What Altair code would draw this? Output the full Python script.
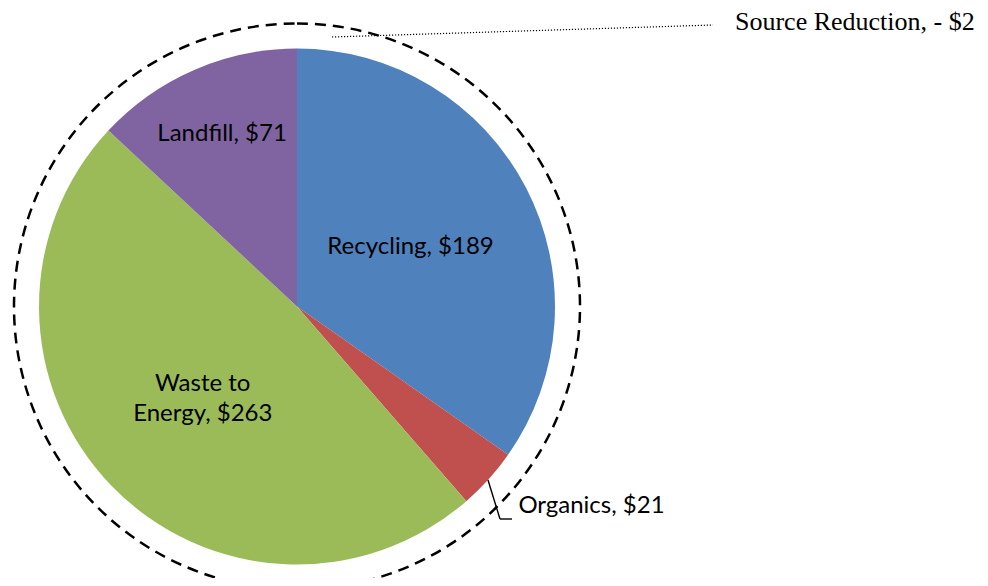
import altair as alt
import pandas as pd

categories = ["Recycling", "Organics", "Waste to Energy", "Landfill", "Source Reduction"]
values = [189, 21, 263, 71, -2]
labels = ["Recycling, $189", "Organics, $21", "Waste to\nEnergy, $263", "Landfill, $71", "Source Reduction, - $2"]
colors = ["#4F81BD", "#C0504D", "#9BBB59", "#8064A2"]

pie_df = pd.DataFrame({
    "cat": categories[:4],
    "value": values[:4],
    "label": labels[:4],
    "order": list(range(4)),
})
sr_df = pd.DataFrame({"cat": [categories[4]], "value": [values[4]], "label": [labels[4]]})

CX, CY = 289, 298.5
R = 258

base = alt.Chart(pie_df).encode(
    theta=alt.Theta("value:Q", stack=True),
    order=alt.Order("order:Q"),
    x=alt.value(CX),
    y=alt.value(CY),
)

pie = base.mark_arc(radius=R).encode(
    color=alt.Color("cat:N", scale=alt.Scale(domain=categories[:4], range=colors), legend=None)
)

def label_layer(cat, radius, **kw):
    return base.mark_text(radius=radius, font="Lato", fontSize=24, color="black",
                          lineBreak="\n", lineHeight=30, **kw).encode(
        text="label:N",
        opacity=alt.condition(alt.datum.cat == cat, alt.value(1), alt.value(0)),
    )

lab_rec = label_layer("Recycling", 128)
lab_land = label_layer("Landfill", 188)
lab_waste = label_layer("Waste to Energy", 131, dy=-14)
lab_org = label_layer("Organics", 298, align="left", baseline="middle")

one = pd.DataFrame({"a": [0]})

ring = alt.Chart(one).mark_arc(
    radius=283, theta=0, theta2=6.3, fill="transparent", stroke="black",
    strokeWidth=2.5, strokeDash=[11, 7]
).encode(x=alt.value(CX), y=alt.value(CY))

org_lead1 = alt.Chart(one).mark_rule(color="black", strokeWidth=1.4).encode(
    x=alt.value(480), y=alt.value(472), x2=alt.value(492), y2=alt.value(511))
org_lead2 = alt.Chart(one).mark_rule(color="black", strokeWidth=1.4).encode(
    x=alt.value(492), y=alt.value(511), x2=alt.value(504), y2=alt.value(511))

sr_lead = alt.Chart(one).mark_rule(color="black", strokeWidth=1.2, strokeDash=[1.2, 1.8]).encode(
    x=alt.value(324), y=alt.value(29), x2=alt.value(705), y2=alt.value(17))
sr_text = alt.Chart(sr_df).mark_text(font="Liberation Serif", fontSize=26, color="black",
                                     align="left", baseline="alphabetic").encode(
    text="label:N", x=alt.value(727), y=alt.value(22))

chart = alt.layer(
    ring, pie, lab_rec, lab_land, lab_waste, lab_org, org_lead1, org_lead2, sr_lead, sr_text
).properties(
    width=972, height=570, padding=0, background="white",
    autosize=alt.AutoSizeParams(type="none")
).configure_view(stroke=None, strokeWidth=0)

chart.save("out.html", embed_options={"renderer": "svg", "actions": False})
